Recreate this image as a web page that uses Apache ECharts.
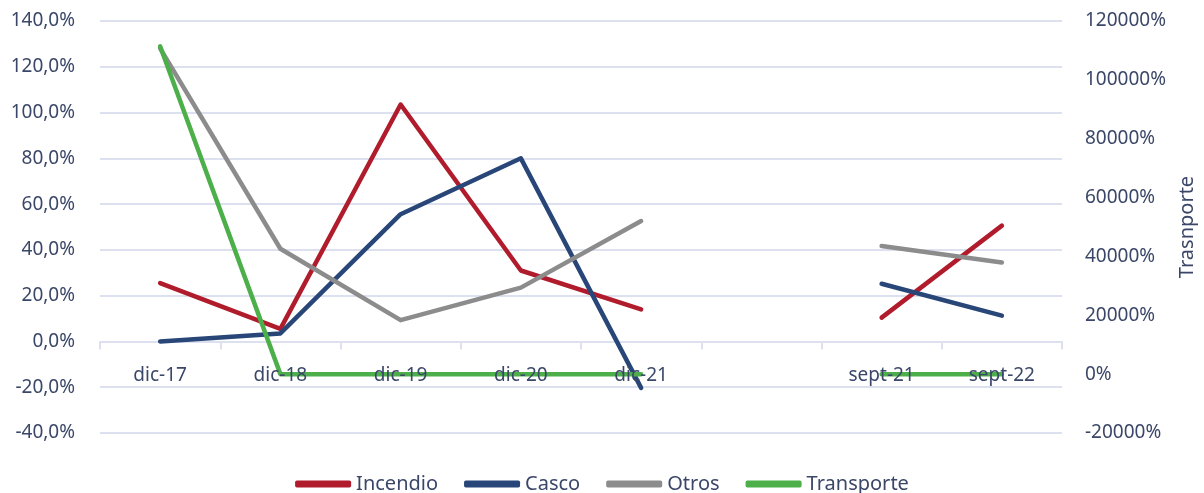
<!DOCTYPE html>
<html>
<head>
<meta charset="utf-8">
<script src="https://cdn.jsdelivr.net/npm/echarts@6/dist/echarts.min.js"></script>
<style>
  html, body { margin: 0; padding: 0; background: #fff; }
  #chart { width: 1204px; height: 493px; }
</style>
</head>
<body>
<div id="chart"></div>
<script>
// categories (the empty one is a gap between the year-end and september points)
var categories = ['dic-17', 'dic-18', 'dic-19', 'dic-20', 'dic-21', '', 'sept-21', 'sept-22']

// values in %, null = no point
var incendio = [25.5, 5.5, 103.5, 31, 14, null, 10.4, 50.6]
var casco = [0, 3.5, 55.6, 80, -20.3, null, 25.2, 11.3]
var otros = [128, 40.5, 9.3, 23.5, 52.6, null, 41.7, 34.5]
// right axis
var transporte = [111400, 0, 0, 0, 0, null, 0, 0]

var textColor = '#3b4768'
var gridColor = '#dde0ef'
var font = 'Noto Sans'

var chart = echarts.init(document.getElementById('chart'))

function lineSeries (name, data, color, axis) {
  return {
    name: name,
    type: 'line',
    yAxisIndex: axis,
    data: data,
    symbol: 'none',
    connectNulls: false,
    lineStyle: { color: color, width: 4.5, cap: 'round', join: 'round' },
    itemStyle: { color: color }
  }
}

var option = {
  animation: false,
  textStyle: { fontFamily: font },
  grid: { left: 100, right: 142, top: 21, bottom: 60, outerBoundsMode: 'none' },
  legend: {
    top: 469,
    left: 'center',
    icon: 'roundRect',
    itemWidth: 56,
    itemHeight: 7,
    itemGap: 26,
    textStyle: { color: textColor, fontSize: 20, fontFamily: font },
    data: ['Incendio', 'Casco', 'Otros', 'Transporte']
  },
  xAxis: [
    {
      type: 'category',
      data: categories,
      boundaryGap: true,
      axisLine: { onZero: true, onZeroAxisIndex: 0, lineStyle: { color: gridColor, width: 2 } },
      axisTick: { show: true, interval: 0, length: 8, lineStyle: { color: gridColor, width: 2 } },
      axisLabel: { show: false },
      splitLine: { show: false }
    },
    {
      // labels only, drawn above the lines like in the original
      type: 'category',
      data: categories,
      position: 'bottom',
      boundaryGap: true,
      z: 5,
      axisLine: { show: false },
      axisTick: { show: false },
      // pulled up from the grid bottom to just under the zero line
      axisLabel: { color: textColor, fontSize: 19, margin: -67, interval: 0 },
      splitLine: { show: false }
    }
  ],
  yAxis: [
    {
      type: 'value',
      min: -40,
      max: 140,
      interval: 20,
      axisLine: { show: false },
      axisTick: { show: false },
      axisLabel: {
        color: textColor,
        fontSize: 19,
        margin: 25,
        formatter: function (v) { return v.toFixed(1).replace('.', ',') + '%' }
      },
      splitLine: { lineStyle: { color: gridColor, width: 2 } }
    },
    {
      type: 'value',
      position: 'right',
      min: -20000,
      max: 120000,
      interval: 20000,
      name: 'Trasnporte',
      nameLocation: 'middle',
      nameRotate: 90,
      nameGap: 115,
      nameTextStyle: { color: textColor, fontSize: 20 },
      axisLine: { show: false },
      axisTick: { show: false },
      axisLabel: {
        color: textColor,
        fontSize: 19,
        margin: 23,
        formatter: function (v) { return v + '%' }
      },
      splitLine: { show: false }
    }
  ],
  series: [
    lineSeries('Incendio', incendio, '#b01c2c', 0),
    lineSeries('Casco', casco, '#284677', 0),
    lineSeries('Otros', otros, '#8c8c8c', 0),
    lineSeries('Transporte', transporte, '#4caf4a', 1)
  ]
}

chart.setOption(option)
</script>
</body>
</html>
